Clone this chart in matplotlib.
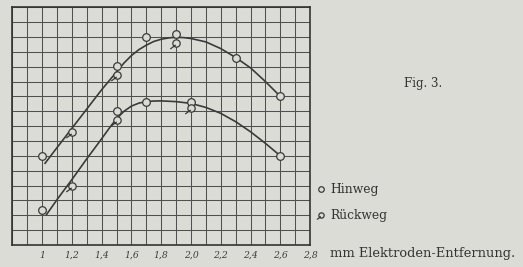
import matplotlib
matplotlib.use("Agg")
import matplotlib.pyplot as plt
import numpy as np
from matplotlib.path import Path

hin_oben_x = [1.0, 1.5, 1.7, 1.9, 2.3, 2.6]
hin_oben_y = [6.0, 12.05, 14.0, 14.2, 12.6, 10.0]
rueck_oben_x = [1.2, 1.5, 1.9]
rueck_oben_y = [7.6, 11.45, 13.6]

hin_unten_x = [1.0, 1.5, 1.7, 2.0, 2.6]
hin_unten_y = [2.35, 9.05, 9.65, 9.65, 6.0]
rueck_unten_x = [1.2, 1.5, 2.0]
rueck_unten_y = [4.0, 8.4, 9.25]

# gezeichnete Kurven
kurve_oben_x = [1.02, 1.1, 1.2, 1.3, 1.4, 1.45, 1.5, 1.55, 1.6, 1.65, 1.7, 1.75, 1.8,
                1.85, 1.9, 1.95, 2.0, 2.1, 2.2, 2.3, 2.4, 2.5, 2.6]
kurve_oben_y = [5.5, 6.55, 7.85, 9.15, 10.45, 11.05, 11.65, 12.25, 12.75, 13.15, 13.45,
                13.7, 13.85, 13.94, 13.98, 13.96, 13.9, 13.67, 13.22, 12.62, 11.92, 11.0, 10.0]
kurve_unten_x = [1.03, 1.1, 1.2, 1.3, 1.4, 1.45, 1.5, 1.55, 1.6, 1.65, 1.7, 1.75, 1.8,
                 1.9, 2.0, 2.1, 2.2, 2.3, 2.4, 2.5, 2.6]
kurve_unten_y = [2.05, 3.05, 4.4, 5.8, 7.15, 7.85, 8.5, 9.0, 9.35, 9.55, 9.65, 9.69, 9.7,
                 9.65, 9.53, 9.26, 8.86, 8.3, 7.62, 6.84, 6.0]

tick_pos = [1.0, 1.2, 1.4, 1.6, 1.8, 2.0, 2.2, 2.4, 2.6, 2.8]
tick_labels = ['1', '1,2', '1,4', '1,6', '1,8', '2,0', '2,2', '2,4', '2,6', '2,8']

papier = '#dcdcd7'
tinte = '#3a3a3a'

# Marker fuer "Rueckweg": Kreis mit Strich
kreis = Path.unit_circle()
strich = Path([(-1.7, -1.5), (-0.2, -0.4)], [Path.MOVETO, Path.LINETO])
rueck_marker = Path.make_compound_path(kreis, strich)

fig = plt.figure(figsize=(5.23, 2.67), dpi=100, facecolor=papier)
ax = fig.add_axes([0.0235, 0.0824, 0.5695, 0.8903], facecolor=papier)

ax.set_xlim(0.8, 2.8)
ax.set_ylim(0, 16)
ax.set_xticks(tick_pos)
ax.set_xticklabels(tick_labels, fontsize=6.7, family='DejaVu Serif', style='italic', color=tinte)
ax.set_xticks(np.arange(0.8, 2.81, 0.1), minor=True)
ax.set_yticks(np.arange(0, 17, 1))
ax.set_yticklabels([])
ax.tick_params(which='both', length=0, pad=4)
ax.grid(which='both', color='#505050', linewidth=0.75)
ax.set_axisbelow(True)
for s in ax.spines.values():
    s.set_color('#333333')
    s.set_linewidth(1.2)

ax.plot(kurve_oben_x, kurve_oben_y, color=tinte, linewidth=1.2)
ax.plot(kurve_unten_x, kurve_unten_y, color=tinte, linewidth=1.2)

for xs, ys in [(hin_oben_x, hin_oben_y), (hin_unten_x, hin_unten_y)]:
    ax.plot(xs, ys, 'o', markersize=5.5, markerfacecolor=papier,
            markeredgecolor=tinte, markeredgewidth=0.9, linestyle='none')
for xs, ys in [(rueck_oben_x, rueck_oben_y), (rueck_unten_x, rueck_unten_y)]:
    ax.plot(xs, ys, marker=rueck_marker, markersize=9, markerfacecolor=papier,
            markeredgecolor=tinte, markeredgewidth=0.9, linestyle='none')

# Beschriftung rechts
fig.text(423 / 523, 1 - 84 / 267, 'Fig. 3.', fontsize=8.5, family='DejaVu Serif',
         color='#333333', ha='center', va='center')
fig.lines.append(plt.Line2D([320.5 / 523], [1 - 189 / 267], marker='o', markersize=4,
                            markerfacecolor=papier, markeredgecolor=tinte,
                            markeredgewidth=0.9, transform=fig.transFigure))
fig.text(330 / 523, 1 - 189 / 267, 'Hinweg', fontsize=8.8, family='DejaVu Serif',
         color='#333333', ha='left', va='center')
fig.lines.append(plt.Line2D([320.5 / 523], [1 - 215 / 267], marker=rueck_marker, markersize=6.5,
                            markerfacecolor=papier, markeredgecolor=tinte,
                            markeredgewidth=0.9, transform=fig.transFigure))
fig.text(330 / 523, 1 - 215 / 267, 'Rückweg', fontsize=8.8, family='DejaVu Serif',
         color='#333333', ha='left', va='center')
fig.text(330.5 / 523, 1 - 253.5 / 267, 'mm Elektroden-Entfernung.', fontsize=9.4,
         family='DejaVu Serif', color='#333333', ha='left', va='center')

fig.savefig('out.png', dpi=100, facecolor=papier)
